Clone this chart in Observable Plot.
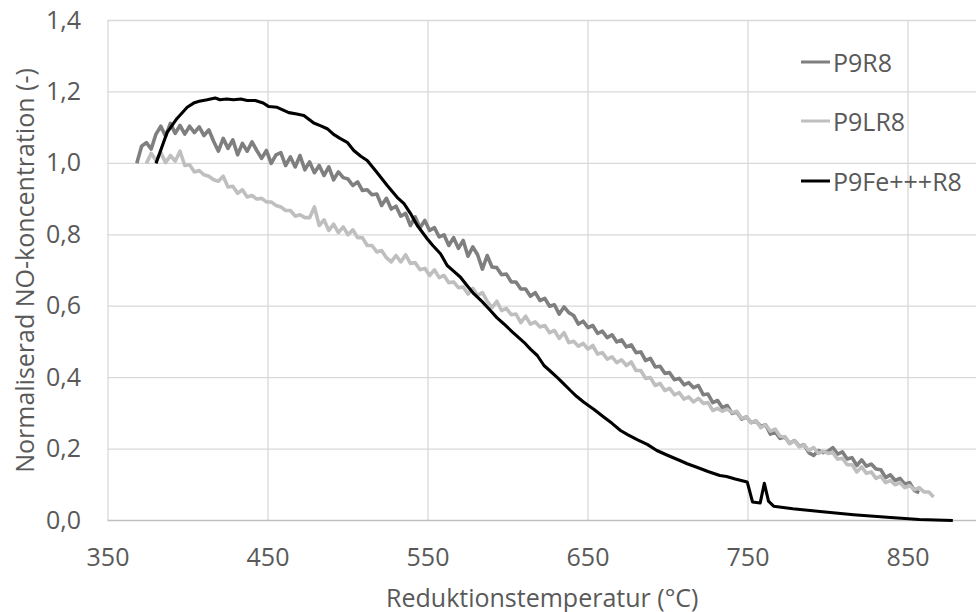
<!DOCTYPE html>
<html>
<head>
<meta charset="utf-8">
<script src="https://cdn.jsdelivr.net/npm/d3@7"></script>
<script src="https://cdn.jsdelivr.net/npm/@observablehq/plot@0.6"></script>
<style>
  html, body { margin: 0; padding: 0; background: #fff; }
  #wrap { position: relative; width: 976px; height: 612px; font-family: "Open Sans", sans-serif; }
  #legend { position: absolute; left: 801px; top: 0; }
  .item { position: absolute; left: 0; display: flex; align-items: center; white-space: nowrap; font-size: 25px; color: #595959; }
  .item svg { display: block; margin-right: 3px; }
</style>
</head>
<body>
<div id="wrap"></div>
<script>
// ---- Data ----
const seriesNames = ["P9R8", "P9LR8", "P9Fe+++R8"];
const seriesColors = ["#7f7f7f", "#bfbfbf", "#000000"];

const p9r8T = [368,371,374,377,380,383,386,389,392,395,398,401,404,407,410,413,416,419,422,425,428,431,434,437,440,443,446,449,452,455,458,461,464,467,470,473,476,479,482,485,488,491,494,497,500,503,506,509,512,515,518,521,524,527,530,533,536,539,542,545,548,551,554,557,560,563,566,569,572,575,578,581,584,587,590,593,596,599,602,605,608,611,614,617,620,623,626,629,632,635,638,641,644,647,650,653,656,659,662,665,668,671,674,677,680,683,686,689,692,695,698,701,704,707,710,713,716,719,722,725,728,731,734,737,740,743,746,749,752,755,758,761,764,767,770,773,776,779,782,785,788,791,794,797,800,803,806,809,812,815,818,821,824,827,830,833,836,839,842,845,848,851,854,857];
const p9r8V = [1.000,1.048,1.058,1.040,1.082,1.104,1.076,1.112,1.084,1.106,1.082,1.104,1.086,1.102,1.078,1.094,1.062,1.034,1.070,1.042,1.066,1.024,1.056,1.034,1.060,1.036,1.014,1.036,1.000,1.024,1.030,0.994,1.018,0.990,1.022,0.982,1.004,0.974,0.994,0.966,0.990,0.954,0.976,0.960,0.956,0.938,0.948,0.924,0.926,0.912,0.914,0.882,0.902,0.872,0.880,0.852,0.860,0.826,0.850,0.820,0.840,0.812,0.820,0.794,0.800,0.770,0.792,0.762,0.784,0.740,0.766,0.744,0.704,0.742,0.710,0.708,0.688,0.690,0.668,0.668,0.648,0.648,0.628,0.638,0.616,0.622,0.600,0.604,0.578,0.598,0.582,0.574,0.550,0.558,0.540,0.546,0.524,0.530,0.512,0.520,0.500,0.506,0.486,0.492,0.470,0.472,0.448,0.454,0.430,0.432,0.412,0.414,0.394,0.398,0.380,0.386,0.372,0.378,0.352,0.354,0.330,0.336,0.316,0.322,0.300,0.304,0.284,0.290,0.274,0.278,0.264,0.268,0.242,0.248,0.230,0.234,0.216,0.224,0.208,0.212,0.190,0.182,0.196,0.190,0.194,0.204,0.186,0.192,0.172,0.176,0.154,0.170,0.152,0.158,0.144,0.142,0.120,0.128,0.112,0.118,0.102,0.106,0.084,0.078];

const p9lr8T = [374,377,380,383,386,389,392,395,398,401,404,407,410,413,416,419,422,425,428,431,434,437,440,443,446,449,452,455,458,461,464,467,470,473,476,479,482,485,488,491,494,497,500,503,506,509,512,515,518,521,524,527,530,533,536,539,542,545,548,551,554,557,560,563,566,569,572,575,578,581,584,587,590,593,596,599,602,605,608,611,614,617,620,623,626,629,632,635,638,641,644,647,650,653,656,659,662,665,668,671,674,677,680,683,686,689,692,695,698,701,704,707,710,713,716,719,722,725,728,731,734,737,740,743,746,749,752,755,758,761,764,767,770,773,776,779,782,785,788,791,794,797,800,803,806,809,812,815,818,821,824,827,830,833,836,839,842,845,848,851,854,857,860,863,866];
const p9lr8V = [1.000,1.028,1.008,1.030,1.002,1.022,1.006,1.034,0.994,0.996,0.976,0.980,0.968,0.964,0.954,0.950,0.964,0.934,0.936,0.916,0.926,0.906,0.910,0.900,0.902,0.892,0.892,0.882,0.878,0.868,0.868,0.852,0.856,0.848,0.848,0.878,0.826,0.842,0.812,0.830,0.806,0.822,0.800,0.814,0.792,0.792,0.770,0.770,0.752,0.756,0.736,0.724,0.742,0.724,0.744,0.720,0.722,0.702,0.706,0.686,0.702,0.680,0.686,0.666,0.668,0.652,0.654,0.634,0.650,0.630,0.638,0.614,0.596,0.614,0.588,0.594,0.576,0.578,0.554,0.572,0.550,0.556,0.542,0.546,0.526,0.532,0.510,0.526,0.498,0.502,0.488,0.496,0.480,0.490,0.466,0.470,0.452,0.458,0.442,0.450,0.434,0.444,0.420,0.420,0.398,0.400,0.378,0.384,0.364,0.370,0.352,0.358,0.340,0.346,0.332,0.342,0.328,0.330,0.308,0.314,0.306,0.312,0.302,0.306,0.286,0.290,0.274,0.280,0.260,0.268,0.250,0.256,0.236,0.234,0.216,0.224,0.206,0.212,0.196,0.204,0.188,0.194,0.188,0.190,0.172,0.174,0.156,0.156,0.136,0.150,0.132,0.136,0.118,0.124,0.106,0.112,0.100,0.106,0.092,0.098,0.086,0.092,0.080,0.080,0.066];

const p9feT = [380,387,393,399.5,404,407,412,417,420,424,428.6,433,437,442,447,450.5,455.7,463,468,472.4,478.6,483,487,491,495,499.5,503.6,508,512,518,524.5,530.7,535,539,543.3,549.5,553,557.8,562,566,570.3,574,578.6,584,589,593,597.3,603,610,614,618.3,622.5,626,630.7,635,639,643,647.4,654,660,665,670.3,675,681,687,693,700,707.4,712,718,725,732.4,736.6,742,749.5,752.8,757.6,760.2,762.8,766,778,795,816,837,857,878];
const p9feV = [1.000,1.087,1.125,1.157,1.170,1.174,1.178,1.183,1.178,1.180,1.178,1.180,1.176,1.176,1.169,1.159,1.157,1.142,1.138,1.134,1.113,1.105,1.097,1.081,1.070,1.059,1.036,1.020,1.008,0.975,0.938,0.905,0.887,0.860,0.826,0.789,0.770,0.747,0.714,0.698,0.681,0.660,0.635,0.612,0.588,0.568,0.551,0.527,0.499,0.480,0.462,0.434,0.420,0.401,0.382,0.364,0.347,0.331,0.310,0.289,0.272,0.252,0.240,0.226,0.213,0.196,0.182,0.168,0.159,0.149,0.137,0.126,0.123,0.116,0.108,0.052,0.049,0.104,0.054,0.040,0.033,0.025,0.016,0.009,0.003,0.000];

const xTicks = [350,450,550,650,750,850];
const yTicks = [0,0.2,0.4,0.6,0.8,1.0,1.2,1.4];
const xLabel = "Reduktionstemperatur (°C)";
const yLabel = "Normaliserad NO-koncentration (-)";

// ---- Build table ----
const rows = [];
[[p9r8T, p9r8V], [p9lr8T, p9lr8V], [p9feT, p9feV]].forEach(([T, V], i) => {
  T.forEach((t, j) => rows.push({series: seriesNames[i], t, v: V[j]}));
});
const widths = {"P9R8": 3.6, "P9LR8": 3.6, "P9Fe+++R8": 3.1};

const FONT = "'Open Sans', sans-serif";
const FS = 25;
const fmt = d => d.toFixed(1).replace(".", ",");

const chart = Plot.plot({
  width: 976,
  height: 612,
  marginTop: 20,
  marginBottom: 92,
  marginLeft: 107.5,
  marginRight: 0,
  style: {fontFamily: FONT, fontSize: FS + "px", color: "#595959", background: "#fff", overflow: "visible"},
  x: {domain: [350, 892.8], ticks: xTicks},
  y: {domain: [0, 1.4], ticks: yTicks},
  color: {domain: seriesNames, range: seriesColors},
  marks: [
    Plot.gridX(xTicks, {stroke: "#d9d9d9", strokeOpacity: 1, strokeWidth: 1.3}),
    Plot.gridY(yTicks.filter(d => d > 0), {stroke: "#d9d9d9", strokeOpacity: 1, strokeWidth: 1.3}),
    Plot.ruleY([0], {stroke: "#bfbfbf", strokeWidth: 1.3}),
    Plot.axisX(xTicks, {tickSize: 0, tickPadding: 28, tickFormat: d => String(d), fill: "#595959", fontSize: FS, label: null}),
    Plot.axisY(yTicks, {tickSize: 0, tickPadding: 27, tickFormat: fmt, fill: "#595959", fontSize: FS, label: null}),
    ...seriesNames.map(name => Plot.line(rows.filter(r => r.series === name), {x: "t", y: "v", stroke: "series", strokeWidth: widths[name], strokeLinejoin: "round", strokeLinecap: "butt"})),
    Plot.text([xLabel], {frameAnchor: "bottom", lineAnchor: "middle", textAnchor: "middle", dy: 78, text: d => d, fill: "#595959", fontSize: FS}),
    Plot.text([yLabel], {frameAnchor: "left", lineAnchor: "middle", textAnchor: "middle", dx: -82.5, rotate: -90, text: d => d, fill: "#595959", fontSize: FS})
  ]
});

const wrap = document.getElementById("wrap");
wrap.appendChild(chart);

// Legend (inside plot area, top right)
const legend = document.createElement("div");
legend.id = "legend";
const legendY = [62, 121, 181];
seriesNames.forEach((name, i) => {
  const item = document.createElement("div");
  item.className = "item";
  item.style.top = (legendY[i] - 18) + "px";
  item.style.height = "36px";
  item.innerHTML = `<svg width="29" height="4"><line x1="0" y1="2" x2="29" y2="2" stroke="${seriesColors[i]}" stroke-width="3"/></svg><span>${name}</span>`;
  legend.appendChild(item);
});
wrap.appendChild(legend);
</script>
</body>
</html>
